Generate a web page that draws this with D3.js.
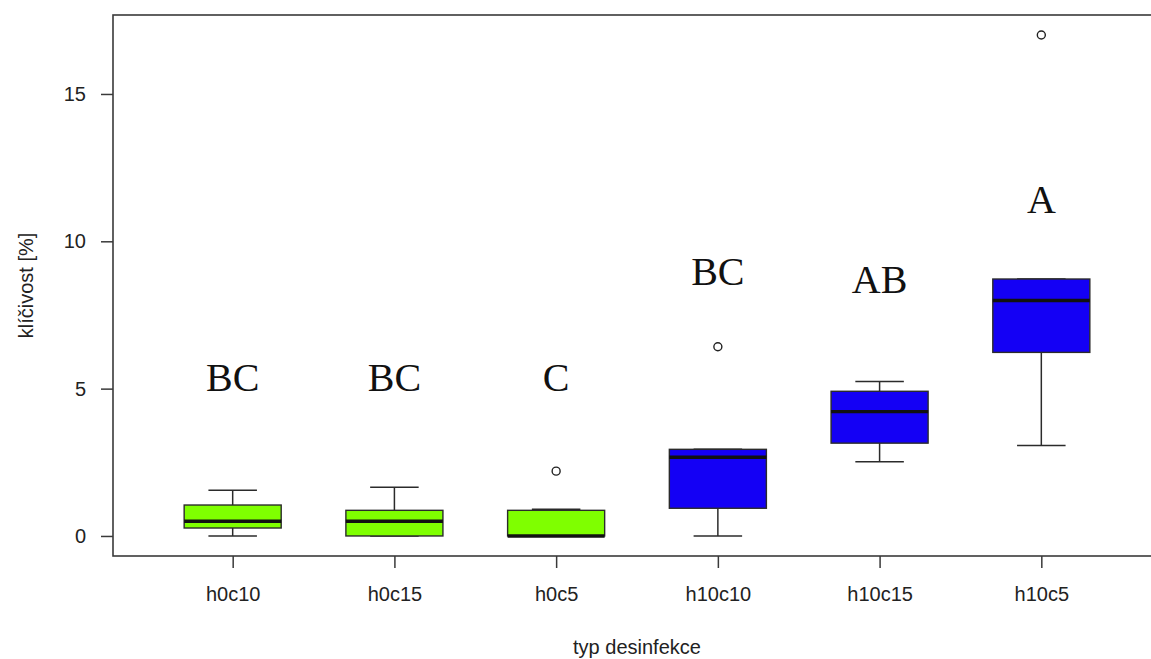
<!DOCTYPE html>
<meta charset="utf-8">
<style>
  body { margin: 0; background: #fff; }
  svg { display: block; }
</style>
<body>
<script src="https://cdn.jsdelivr.net/npm/d3@7"></script>
<script>

// category names and treatment group
var categories = ["h0c10", "h0c15", "h0c5", "h10c10", "h10c15", "h10c5"];
var groups = ["h0", "h0", "h0", "h10", "h10", "h10"];

// box statistics
var lowWhisker  = [0.00, 0.00, 0.00, 0.00, 2.52, 3.07];
var q1          = [0.27, 0.00, 0.00, 0.94, 3.15, 6.23];
var median      = [0.50, 0.50, 0.00, 2.67, 4.22, 7.99];
var q3          = [1.05, 0.87, 0.87, 2.94, 4.91, 8.72];
var highWhisker = [1.55, 1.65, 0.91, 2.94, 5.24, 8.72];
var outliers    = [[], [], [2.2], [6.42], [], [17.0]];

// significance letters and their heights
var letters = ["BC", "BC", "C", "BC", "AB", "A"];
var letterY = [5.4, 5.4, 5.4, 8.98, 8.72, 11.44];

var yTicks = [0, 5, 10, 15];

var width = 1151,
    height = 659;

// plot frame (right edge falls just outside the picture)
var plotLeft = 113, plotRight = 1161, plotTop = 15, plotBottom = 556;

var svg = d3.select("body").append("svg")
    .attr("width", width)
    .attr("height", height);

var x = d3.scalePoint()
    .domain(categories)
    .range([plotLeft, plotRight])
    .padding(0.74);

var y = d3.scaleLinear()
    .domain([-0.68, 17.68])
    .range([plotBottom, plotTop]);

var color = d3.scaleOrdinal()
    .domain(["h0", "h10"])
    .range(["#7fff00", "#1400f5"]);

var step = x.step(),
    boxW = step * 0.6,
    capW = boxW / 2;

var data = categories.map(function(c, i) {
  return {
    cat: c, group: groups[i],
    lo: lowWhisker[i], q1: q1[i], med: median[i], q3: q3[i], hi: highWhisker[i],
    out: outliers[i], letter: letters[i], ly: letterY[i]
  };
});

var ink = "#2b2b2b";

var box = svg.append("g").selectAll("g")
    .data(data)
  .enter().append("g")
    .attr("transform", function(d) { return "translate(" + x(d.cat) + ",0)"; });

// whiskers
box.append("line")
    .attr("y1", function(d) { return y(d.q3); })
    .attr("y2", function(d) { return y(d.hi); })
    .attr("stroke", ink).attr("stroke-width", 1.5);
box.append("line")
    .attr("y1", function(d) { return y(d.q1); })
    .attr("y2", function(d) { return y(d.lo); })
    .attr("stroke", ink).attr("stroke-width", 1.5);
box.append("line")
    .attr("x1", -capW / 2).attr("x2", capW / 2)
    .attr("y1", function(d) { return y(d.hi); })
    .attr("y2", function(d) { return y(d.hi); })
    .attr("stroke", ink).attr("stroke-width", 1.5);
box.append("line")
    .attr("x1", -capW / 2).attr("x2", capW / 2)
    .attr("y1", function(d) { return y(d.lo); })
    .attr("y2", function(d) { return y(d.lo); })
    .attr("stroke", ink).attr("stroke-width", 1.5);

box.append("rect")
    .attr("x", -boxW / 2)
    .attr("width", boxW)
    .attr("y", function(d) { return y(d.q3); })
    .attr("height", function(d) { return y(d.q1) - y(d.q3); })
    .attr("fill", function(d) { return color(d.group); })
    .attr("stroke", ink)
    .attr("stroke-width", 1.4);

box.append("line")
    .attr("x1", -boxW / 2).attr("x2", boxW / 2)
    .attr("y1", function(d) { return y(d.med); })
    .attr("y2", function(d) { return y(d.med); })
    .attr("stroke", "#111")
    .attr("stroke-width", 3.4);

box.selectAll("circle")
    .data(function(d) { return d.out; })
  .enter().append("circle")
    .attr("cy", function(v) { return y(v); })
    .attr("r", 4)
    .attr("fill", "none")
    .attr("stroke", "#222")
    .attr("stroke-width", 1.4);

box.append("text")
    .attr("y", function(d) { return y(d.ly); })
    .attr("dy", "0.35em")
    .attr("text-anchor", "middle")
    .style("font-family", "'Liberation Serif', 'Times New Roman', serif")
    .style("font-size", "40px")
    .attr("fill", "#111")
    .text(function(d) { return d.letter; });

// frame
svg.append("rect")
    .attr("x", plotLeft).attr("y", plotTop)
    .attr("width", plotRight - plotLeft).attr("height", plotBottom - plotTop)
    .attr("fill", "none")
    .attr("stroke", "#3a3a3a")
    .attr("stroke-width", 1.6);

// axes
var xAxis = svg.append("g")
    .attr("transform", "translate(0," + plotBottom + ")")
    .call(d3.axisBottom(x).tickSize(12).tickPadding(19));
var yAxis = svg.append("g")
    .attr("transform", "translate(" + plotLeft + ",0)")
    .call(d3.axisLeft(y).tickValues(yTicks).tickSize(12).tickPadding(15));

[xAxis, yAxis].forEach(function(g) {
  g.select(".domain").remove();
  g.selectAll(".tick line").attr("stroke", "#3a3a3a").attr("stroke-width", 1.5);
  g.selectAll(".tick text")
      .attr("fill", "#222")
      .style("font-family", "Arial, 'Liberation Sans', sans-serif")
      .style("font-size", "20px");
});

svg.append("text")
    .attr("x", (plotLeft + plotRight) / 2)
    .attr("y", 654)
    .attr("text-anchor", "middle")
    .attr("fill", "#222")
    .style("font-family", "Arial, 'Liberation Sans', sans-serif")
    .style("font-size", "20px")
    .text("typ desinfekce");

svg.append("text")
    .attr("transform", "translate(33," + (plotTop + plotBottom) / 2 + ") rotate(-90)")
    .attr("text-anchor", "middle")
    .attr("fill", "#222")
    .style("font-family", "Arial, 'Liberation Sans', sans-serif")
    .style("font-size", "20px")
    .text("klíčivost [%]");

</script>
